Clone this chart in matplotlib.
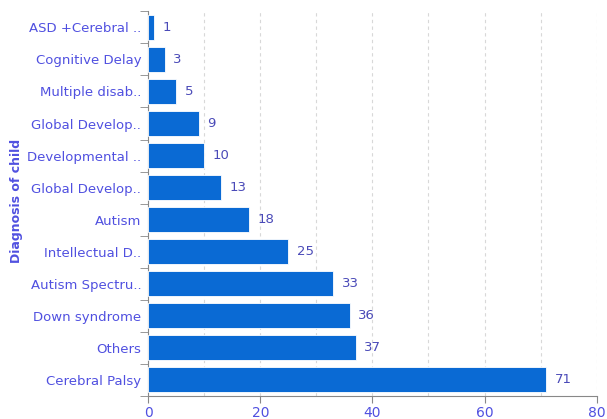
import matplotlib
matplotlib.use('Agg')
import numpy as np
from matplotlib import pyplot as plt

# dados (de baixo para cima)
categories = ['Cerebral Palsy', 'Others', 'Down syndrome', 'Autism Spectru..',
              'Intellectual D..', 'Autism', 'Global Develop..', 'Developmental ..',
              'Global Develop..', 'Multiple disab..', 'Cognitive Delay',
              'ASD +Cerebral ..']
counts = [71, 37, 36, 33, 25, 18, 13, 10, 9, 5, 3, 1]
xticks = [0, 20, 40, 60, 80]

bar_color = '#0a6ad4'
text_color = '#5050e0'

fig = plt.figure(figsize=(6.07, 4.19), dpi=100)
ax = fig.add_axes([0.244, 0.055, 0.739, 0.918])

y = np.arange(len(categories))
ax.barh(y, counts, height=0.78, color=bar_color, edgecolor='white', linewidth=0.6, zorder=3)
for yi, v in zip(y, counts):
    ax.text(v + 1.5, yi, str(v), va='center', ha='left', fontsize=9.5, color='#4a4ab8')

ax.set_xlim(0, 80)
ax.set_ylim(-0.5, len(categories) - 0.5)
ax.set_xticks(xticks)
ax.set_xticklabels([str(t) for t in xticks], color=text_color, fontsize=10)
ax.set_xticks(np.arange(10, 80, 10), minor=True)
ax.tick_params(axis='x', which='minor', length=0)
ax.grid(axis='x', which='both', linestyle=(0, (3, 3)), color='#d8d8d8', linewidth=0.8, zorder=0)

# rótulos no centro, ticks nas fronteiras
ax.set_yticks(y)
ax.set_yticklabels(categories, color=text_color, fontsize=9.5)
ax.tick_params(axis='y', which='major', length=0, pad=5)
ax.set_yticks(np.arange(-0.5, len(categories), 1), minor=True)
ax.tick_params(axis='y', which='minor', length=6, color='#888888', direction='out')
ax.tick_params(axis='x', which='major', length=5, color='#888888', pad=2)

for s in ['top', 'right']:
    ax.spines[s].set_visible(False)
ax.spines['left'].set_color('#888888')
ax.spines['bottom'].set_color('#888888')

fig.text(0.028, 0.52, 'Diagnosis of child', rotation=90, va='center', ha='center',
         fontsize=9, fontweight='bold', color=text_color)

fig.savefig('out.png', dpi=100)
